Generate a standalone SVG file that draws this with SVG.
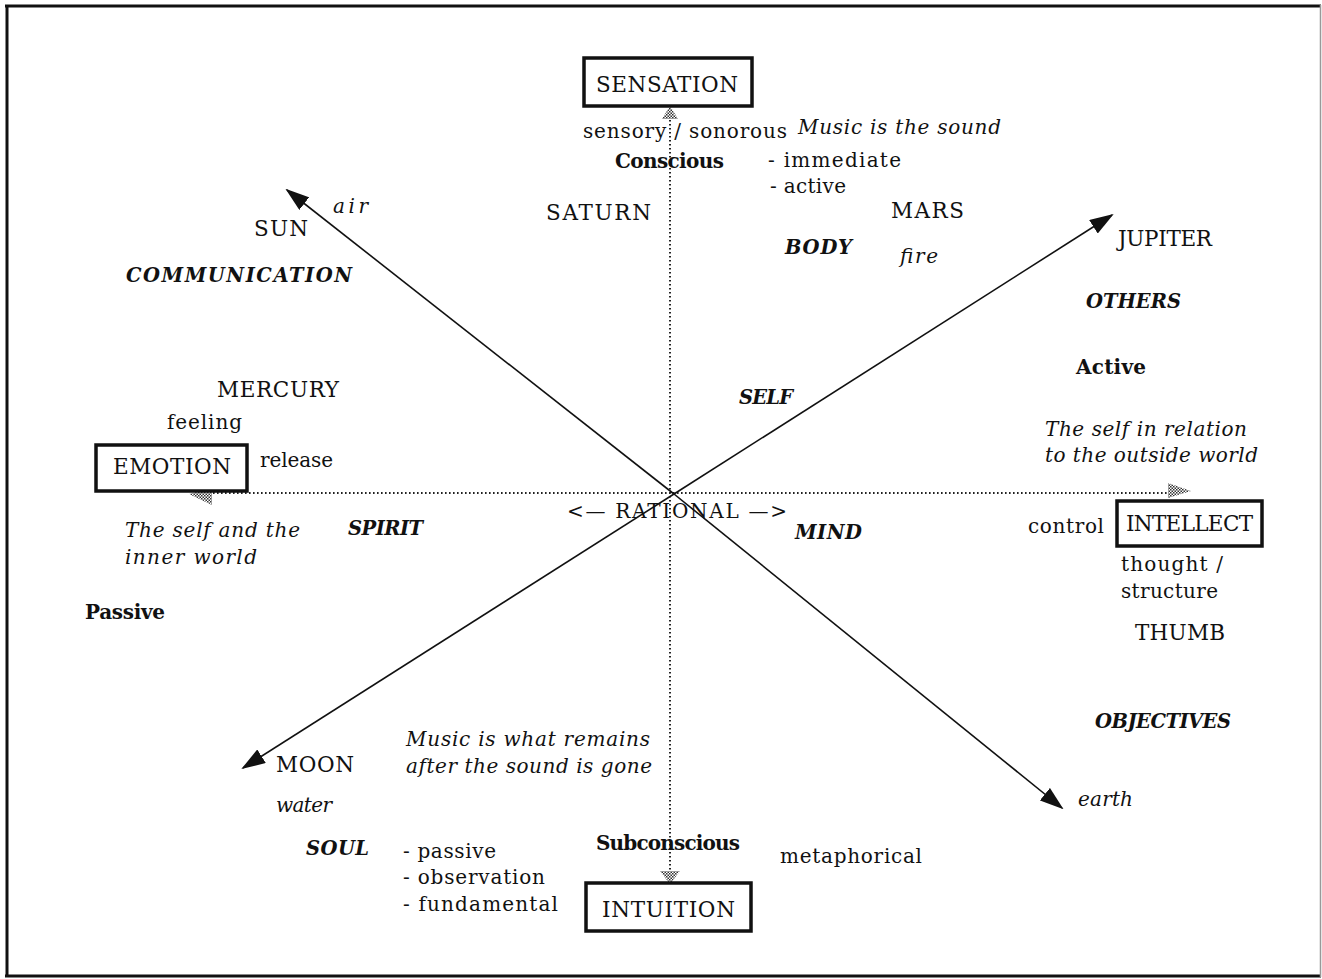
<svg xmlns="http://www.w3.org/2000/svg" width="1322" height="979" viewBox="0 0 1322 979">
<style>
text{font-family:"DejaVu Serif","Liberation Serif",serif;font-size:20px;fill:#111}
.c{font-size:21.5px}
.i{font-style:italic}
.b{font-weight:bold}
.bi{font-weight:bold;font-style:italic;font-size:19.5px}
.box{fill:#fff;stroke:#111;stroke-width:3.5}
.dot{stroke:#222;stroke-width:2;stroke-dasharray:1.6 2.4;fill:none}
.ax{stroke:#111;stroke-width:1.6;fill:none}
.hat{fill:url(#chk)}
.fr{stroke:#111;stroke-width:3;fill:none}
</style>
<defs>
<pattern id="chk" width="3" height="3" patternUnits="userSpaceOnUse">
<rect width="3" height="3" fill="#fff"/>
<rect width="1.5" height="1.5" fill="#333"/>
<rect x="1.5" y="1.5" width="1.5" height="1.5" fill="#333"/>
</pattern>
<marker id="ah" viewBox="0 0 24 16" refX="22" refY="8" markerWidth="24" markerHeight="16" markerUnits="userSpaceOnUse" orient="auto">
<path d="M0,0 L24,8 L0,16 Z" fill="#111"/>
</marker>
</defs>
<g id="frame">
<line class="fr" x1="5" y1="6" x2="1321" y2="6"/>
<line class="fr" x1="7" y1="5" x2="7" y2="977"/>
<line class="fr" x1="5" y1="976" x2="1321" y2="976"/>
<line x1="1320.5" y1="5" x2="1320.5" y2="977" stroke="#999" stroke-width="1.5"/>
</g>
<g id="connectors">
<line class="dot" x1="670" y1="112" x2="670" y2="872"/>
<line class="dot" x1="205" y1="493" x2="1175" y2="493"/>
<line class="ax" x1="674" y1="494" x2="287" y2="190" marker-end="url(#ah)"/>
<line class="ax" x1="674" y1="494" x2="1062" y2="808" marker-end="url(#ah)"/>
<line class="ax" x1="674" y1="494" x2="1112" y2="215" marker-end="url(#ah)"/>
<line class="ax" x1="674" y1="494" x2="243" y2="768" marker-end="url(#ah)"/>
<polygon class="hat" points="670,106 678,119 662,119"/>
<polygon class="hat" points="660,871 680,871 670,884"/>
<polygon class="hat" points="189,494 212,488 212,505"/>
<polygon class="hat" points="1191,491 1168,483 1168,498"/>
</g>
<g id="sensation">
<rect class="box" x="584" y="58" width="168" height="48"/>
<text class="c" x="596" y="92" textLength="142">SENSATION</text>
</g>
<g id="emotion">
<rect class="box" x="96" y="445" width="151" height="46"/>
<text class="c" x="113" y="474" textLength="118">EMOTION</text>
</g>
<g id="intellect">
<rect class="box" x="1117" y="501" width="145" height="45"/>
<text class="c" x="1126" y="531" textLength="127">INTELLECT</text>
</g>
<g id="intuition">
<rect class="box" x="586" y="883" width="165" height="48"/>
<text class="c" x="602" y="917" textLength="133">INTUITION</text>
</g>
<g id="labels">
<text x="583" y="138" textLength="204">sensory / sonorous</text>
<text class="i" x="798" y="134" textLength="203">Music is the sound</text>
<text class="b" x="615" y="168" textLength="109">Conscious</text>
<text x="768" y="167" textLength="133">- immediate</text>
<text x="770" y="193" textLength="76">- active</text>
<text class="c" x="546" y="220" textLength="105">SATURN</text>
<text class="c" x="891" y="218" textLength="73">MARS</text>
<text class="bi" x="785" y="254" textLength="67">BODY</text>
<text class="i" x="900" y="263" textLength="38">fire</text>
<text class="i" x="333" y="213" textLength="35">air</text>
<text class="c" x="254" y="236" textLength="54">SUN</text>
<text class="bi" x="126" y="282" textLength="226">COMMUNICATION</text>
<text class="c" x="1118" y="246" textLength="94">JUPITER</text>
<text class="bi" x="1086" y="308" textLength="95">OTHERS</text>
<text class="b" x="1076" y="374" textLength="70">Active</text>
<text class="bi" x="739" y="404" textLength="54">SELF</text>
<text class="c" x="217" y="397" textLength="122">MERCURY</text>
<text x="167" y="429" textLength="75">feeling</text>
<text x="260" y="467" textLength="73">release</text>
<text class="i" x="1045" y="436" textLength="202">The self in relation</text>
<text class="i" x="1045" y="462" textLength="213">to the outside world</text>
<text x="567" y="518" textLength="220">&lt;— RATIONAL —&gt;</text>
<text class="i" x="125" y="537" textLength="175">The self and the</text>
<text class="i" x="125" y="564" textLength="132">inner world</text>
<text class="bi" x="348" y="535" textLength="75">SPIRIT</text>
<text class="bi" x="795" y="539" textLength="67">MIND</text>
<text x="1028" y="533" textLength="76">control</text>
<text x="1121" y="571" textLength="102">thought /</text>
<text x="1121" y="598" textLength="97">structure</text>
<text class="c" x="1135" y="640" textLength="90">THUMB</text>
<text class="b" x="85" y="619" textLength="80">Passive</text>
<text class="bi" x="1095" y="728" textLength="136">OBJECTIVES</text>
<text class="i" x="406" y="746" textLength="244">Music is what remains</text>
<text class="i" x="406" y="773" textLength="246">after the sound is gone</text>
<text class="c" x="276" y="772" textLength="78">MOON</text>
<text class="i" x="276" y="812" textLength="56">water</text>
<text class="i" x="1078" y="806" textLength="55">earth</text>
<text class="bi" x="306" y="855" textLength="63">SOUL</text>
<text x="403" y="858" textLength="93">- passive</text>
<text x="403" y="884" textLength="142">- observation</text>
<text x="403" y="911" textLength="155">- fundamental</text>
<text class="b" x="596" y="850" textLength="144">Subconscious</text>
<text x="780" y="863" textLength="142">metaphorical</text>
</g>
</svg>
